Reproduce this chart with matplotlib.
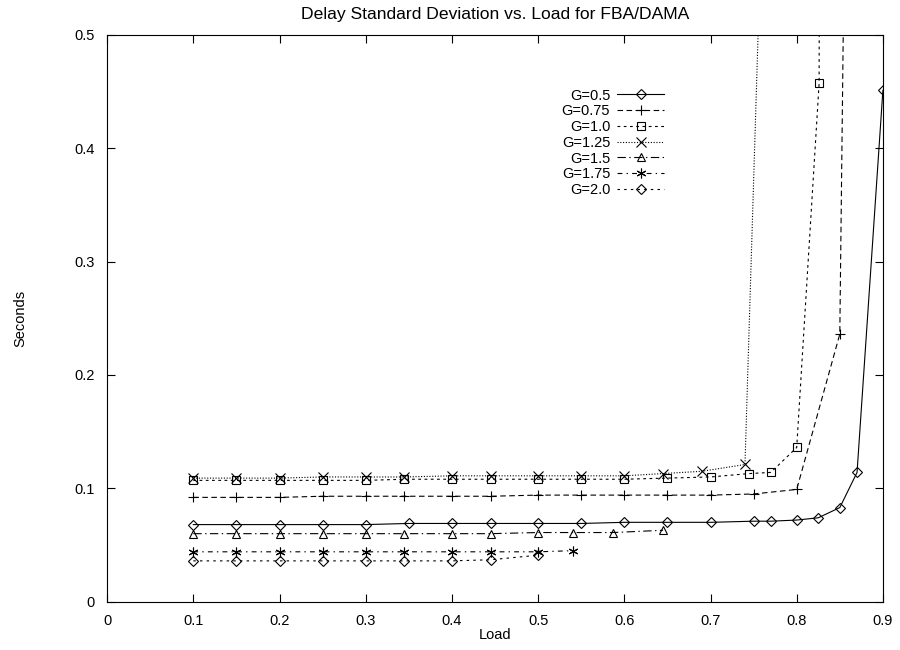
import matplotlib
matplotlib.use("Agg")
import matplotlib.pyplot as plt
from matplotlib.ticker import FormatStrFormatter

plt.rcParams.update({'font.family': 'Liberation Sans', 'font.size': 10.5,
                     'lines.scale_dashes': False})

# load values and std-dev of delay for each G
x05 = [0.1, 0.15, 0.2, 0.25, 0.3, 0.35, 0.4, 0.445, 0.5, 0.55, 0.6, 0.65, 0.7, 0.75, 0.77, 0.8, 0.825, 0.85, 0.87, 0.9]
y05 = [0.068, 0.068, 0.068, 0.068, 0.068, 0.069, 0.069, 0.069, 0.069, 0.069, 0.070, 0.070, 0.070, 0.071, 0.071, 0.072, 0.074, 0.083, 0.114, 0.451]

x075 = [0.1, 0.15, 0.2, 0.25, 0.3, 0.345, 0.4, 0.445, 0.5, 0.55, 0.6, 0.65, 0.7, 0.75, 0.8, 0.85, 0.86]
y075 = [0.092, 0.092, 0.092, 0.093, 0.093, 0.093, 0.093, 0.093, 0.094, 0.094, 0.094, 0.094, 0.094, 0.095, 0.099, 0.236, 0.9]

x10 = [0.1, 0.15, 0.2, 0.25, 0.3, 0.345, 0.4, 0.445, 0.5, 0.55, 0.6, 0.65, 0.7, 0.745, 0.77, 0.8, 0.826, 0.83]
y10 = [0.107, 0.107, 0.107, 0.107, 0.107, 0.108, 0.108, 0.108, 0.108, 0.108, 0.108, 0.109, 0.110, 0.113, 0.114, 0.136, 0.457, 2.0]

x125 = [0.1, 0.15, 0.2, 0.25, 0.3, 0.345, 0.4, 0.445, 0.5, 0.55, 0.6, 0.645, 0.69, 0.74, 0.76]
y125 = [0.109, 0.109, 0.109, 0.110, 0.110, 0.110, 0.111, 0.111, 0.111, 0.111, 0.111, 0.113, 0.115, 0.121, 0.62]

x15 = [0.1, 0.15, 0.2, 0.25, 0.3, 0.345, 0.4, 0.445, 0.5, 0.54, 0.587, 0.645]
y15 = [0.060, 0.060, 0.060, 0.060, 0.060, 0.060, 0.060, 0.060, 0.061, 0.061, 0.061, 0.063]

x175 = [0.1, 0.15, 0.2, 0.25, 0.3, 0.345, 0.4, 0.445, 0.5, 0.54]
y175 = [0.044, 0.044, 0.044, 0.044, 0.044, 0.044, 0.044, 0.044, 0.044, 0.045]

x20 = [0.1, 0.15, 0.2, 0.25, 0.3, 0.345, 0.4, 0.445, 0.5]
y20 = [0.036, 0.036, 0.036, 0.036, 0.036, 0.036, 0.036, 0.037, 0.041]

labels = ["G=0.5", "G=0.75", "G=1.0", "G=1.25", "G=1.5", "G=1.75", "G=2.0"]
xs = [x05, x075, x10, x125, x15, x175, x20]
ys = [y05, y075, y10, y125, y15, y175, y20]
markers = ['D', '+', 's', 'x', '^', (6, 2, 0), 'D']
msizes = [5, 7, 5.5, 6.5, 5.5, 7, 5]
dashes = [None, (4, 2.5), (2, 2.5), (0.8, 1.2), (6, 2.5, 1, 2.5), (3.5, 3, 1, 3), (1.8, 3)]

fig = plt.figure(figsize=(9, 6.5), dpi=100)
ax = fig.add_axes([0.119, 0.0743, 0.862, 0.8723])

for x, y, lab, m, ms, d in zip(xs, ys, labels, markers, msizes, dashes):
    line, = ax.plot(x, y, color='black', lw=0.8, marker=m, ms=ms,
                    mfc='none', mec='black', mew=0.8, label=lab)
    if d is not None:
        line.set_dashes(d)

ax.set_xlim(0, 0.9)
ax.set_ylim(0, 0.5)
ax.set_xticks([0, 0.1, 0.2, 0.3, 0.4, 0.5, 0.6, 0.7, 0.8, 0.9])
ax.set_yticks([0, 0.1, 0.2, 0.3, 0.4, 0.5])
ax.xaxis.set_major_formatter(FormatStrFormatter('%g'))
ax.yaxis.set_major_formatter(FormatStrFormatter('%g'))
ax.tick_params(direction='in', length=6, width=0.8, top=True, right=True, pad=9)
for s in ax.spines.values():
    s.set_linewidth(0.8)

ax.set_title("Delay Standard Deviation vs. Load for FBA/DAMA", pad=11)
ax.set_xlabel("Load", labelpad=0)
ax.set_ylabel("Seconds", labelpad=34)

ax.legend(loc='upper right', bbox_to_anchor=(0.718, 0.905), frameon=False,
          markerfirst=False, handlelength=3.2, handletextpad=0.5,
          labelspacing=0.12, borderpad=0, borderaxespad=0)

fig.savefig("out.png", dpi=100)
